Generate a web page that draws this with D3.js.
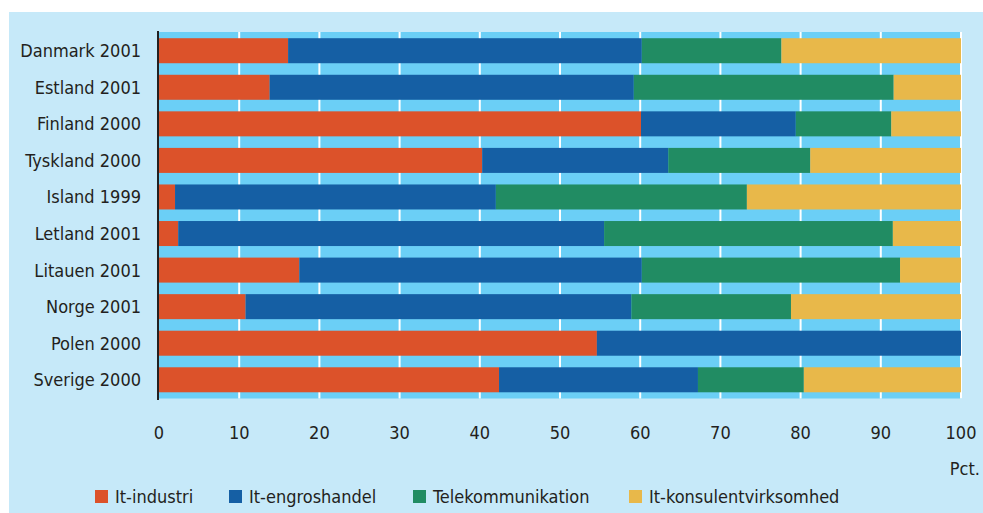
<!DOCTYPE html>
<meta charset="utf-8">
<script src="https://d3js.org/d3.v7.min.js"></script>
<style>
  body { margin: 0; background: #fff; }
  text { font-family: "DejaVu Sans Condensed", "Liberation Sans Narrow", sans-serif; fill: #231f20; }
</style>
<div id="my_dataviz"></div>
<script>
// categories (top to bottom) and the four shares in pct.
var countries = ["Danmark 2001", "Estland 2001", "Finland 2000", "Tyskland 2000", "Island 1999",
                 "Letland 2001", "Litauen 2001", "Norge 2001", "Polen 2000", "Sverige 2000"];
var itIndustri     = [16.1, 13.8, 60.1, 40.3,  2.0,  2.4, 17.5, 10.8, 54.6, 42.4];
var itEngros       = [44.1, 45.4, 19.3, 23.2, 40.0, 53.1, 42.7, 48.1, 45.4, 24.8];
var telekom        = [17.4, 32.4, 11.9, 17.7, 31.3, 36.0, 32.2, 19.9,  0.0, 13.2];
var itKonsulent    = [22.4,  8.4,  8.7, 18.8, 26.7,  8.5,  7.6, 21.2,  0.0, 19.6];
var seriesNames = ["It-industri", "It-engroshandel", "Telekommunikation", "It-konsulentvirksomhed"];
var seriesColors = ["#dc522a", "#155fa4", "#218c63", "#e8b84a"];
var xTicks = [0, 10, 20, 30, 40, 50, 60, 70, 80, 90, 100];

var W = 983, H = 513;
var svg = d3.select("#my_dataviz")
  .append("svg")
    .attr("width", W)
    .attr("height", H);

// panel background
svg.append("rect")
  .attr("x", 9).attr("y", 12)
  .attr("width", W - 9).attr("height", H - 12)
  .attr("fill", "#c6e9f9");

var x = d3.scaleLinear().domain([0, 100]).range([159, 961]);
var y = d3.scaleBand()
    .domain(countries)
    .range([32, 398.5])
    .paddingInner(0.316)
    .paddingOuter(0.17);

// plot background
svg.append("rect")
  .attr("x", x(0)).attr("y", 32)
  .attr("width", x(100) - x(0) + 1).attr("height", 398.5 - 32)
  .attr("fill", "#6bcff6");

// white gridlines
svg.append("g")
  .selectAll("line")
  .data(xTicks.slice(1))
  .enter()
  .append("line")
    .attr("x1", function(d) { return x(d); })
    .attr("x2", function(d) { return x(d); })
    .attr("y1", 32).attr("y2", 398.5)
    .attr("stroke", "#fff")
    .attr("stroke-width", 2);

// stack the data
var table = countries.map(function(c, i) {
  return {country: c, s0: itIndustri[i], s1: itEngros[i], s2: telekom[i], s3: itKonsulent[i]};
});
var stacked = d3.stack().keys(["s0", "s1", "s2", "s3"])(table);

svg.append("g")
  .selectAll("g")
  .data(stacked)
  .enter()
  .append("g")
    .attr("fill", function(d, i) { return seriesColors[i]; })
  .selectAll("rect")
  .data(function(d) { return d; })
  .enter()
  .append("rect")
    .attr("x", function(d) { return x(d[0]); })
    .attr("y", function(d) { return y(d.data.country); })
    .attr("width", function(d) { return Math.max(0, x(d[1]) - x(d[0])); })
    .attr("height", y.bandwidth());

// y axis line
svg.append("line")
  .attr("x1", 158).attr("x2", 158)
  .attr("y1", 31).attr("y2", 400)
  .attr("stroke", "#231f20")
  .attr("stroke-width", 2);

// category labels
svg.append("g")
  .selectAll("text")
  .data(countries)
  .enter()
  .append("text")
    .attr("x", 141)
    .attr("y", function(d) { return y(d) + y.bandwidth() / 2; })
    .attr("dy", "0.36em")
    .attr("text-anchor", "end")
    .style("font-size", "18px")
    .text(function(d) { return d; });

// x tick labels
svg.append("g")
  .selectAll("text")
  .data(xTicks)
  .enter()
  .append("text")
    .attr("x", function(d) { return x(d); })
    .attr("y", 439)
    .attr("text-anchor", "middle")
    .style("font-size", "18px")
    .text(function(d) { return d; });

svg.append("text")
  .attr("x", 980).attr("y", 475)
  .attr("text-anchor", "end")
  .style("font-size", "18px")
  .text("Pct.");

// legend
var legendX = [95, 229, 413, 629];
var legend = svg.append("g")
  .selectAll("g")
  .data(seriesNames)
  .enter()
  .append("g")
    .attr("transform", function(d, i) { return "translate(" + legendX[i] + ",490)"; });
legend.append("rect")
  .attr("width", 13).attr("height", 13)
  .attr("fill", function(d, i) { return seriesColors[i]; });
legend.append("text")
  .attr("x", 20).attr("y", 13)
  .style("font-size", "18px")
  .text(function(d) { return d; });
</script>
